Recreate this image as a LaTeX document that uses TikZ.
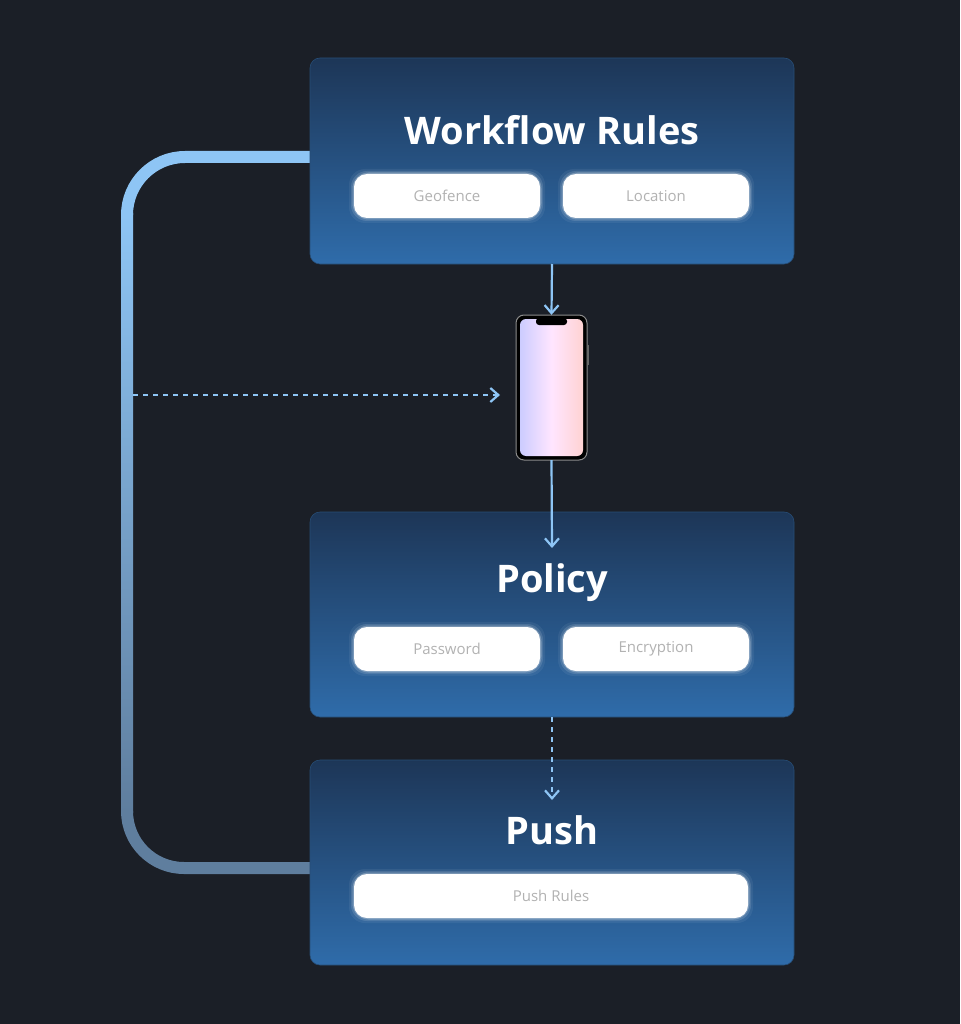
\documentclass[tikz,border=0pt]{standalone}
\usepackage{fontspec}
\setmainfont{Open Sans}
\usetikzlibrary{positioning,arrows.meta}
\definecolor{bg}{HTML}{1B1F27}
\definecolor{boxtop}{HTML}{1D3657}
\definecolor{boxbot}{HTML}{2F6CAA}
\definecolor{link}{HTML}{8EC5F5}
\definecolor{linkend}{HTML}{5F7E9E}
\tikzset{
  panel/.style={rounded corners=10pt, top color=boxtop, bottom color=boxbot, draw=boxbot!60!bg, line width=0.6pt},
  title/.style={text=white, font=\bfseries\fontsize{38}{38}\selectfont},
  pill/.style={rounded corners=13pt, fill=white, inner sep=0pt, text=black!30, font=\fontsize{15}{15}\selectfont},
  flow/.style={draw=link, line width=2.2pt, -{Straight Barb[length=8pt,width=14pt]}},
  hint/.style={flow, dash pattern=on 5pt off 5pt}
}
\newcommand{\blurpill}[5]{% name, x, y, width, text
  \foreach \g/\o in {5/0.06,3/0.12,1.5/0.25}
    \fill[white, opacity=\o, rounded corners=16pt] ({#2-#4/2-\g},{#3-22-\g}) rectangle ({#2+#4/2+\g},{#3+22+\g});
  \node[pill, minimum width=#4, minimum height=44] (#1) at (#2,#3) {#5};
}
\begin{document}
\begin{tikzpicture}[x=1pt, y=-1pt]
\fill[bg] (0,0) rectangle (960,1024);
\useasboundingbox (0,0) rectangle (960,1024);

% loop on the left
\draw[link, line width=12pt] (310,157) -- (185,157) arc[start angle=-90, end angle=-180, radius=58];
\shade[top color=link, bottom color=linkend] (121,214) rectangle (133,812);
\draw[linkend, line width=12pt] (127,811) arc[start angle=180, end angle=90, radius=57] -- (310,868);
\coordinate (tap) at (133,395);

% panels
\draw[panel] (310,58) rectangle (794,264);
\node[title] (rules) at (552,130) {Workflow Rules};
\blurpill{geofence}{447}{196}{186}{Geofence}
\blurpill{location}{656}{196}{186}{Location}

\draw[panel] (310,512) rectangle (794,717);
\node[title] (policy) at (552,583) {Policy};
\blurpill{password}{447}{649}{186}{Password}
\blurpill{encryption}{656}{649}{186}{Encryption}

\draw[panel] (310,760) rectangle (794,965);
\node[title] (push) at (552,830) {Push};
\blurpill{pushrules}{551}{896}{394}{Push Rules}

\coordinate (rulesout) at (552,264);
\coordinate (policyin) at (552,548);
\coordinate (policyout) at (552,717);
\coordinate (pushin) at (552,800);
\coordinate (phonein) at (500,395);

% phone
\draw[fill=black, draw=black!45, line width=1pt, rounded corners=8pt] (516,315) rectangle (587,460);
\fill[black!60] (587,345) rectangle (589,365);
\shade[left color=blue!20!white, right color=pink!70!white, middle color=magenta!10!white, rounded corners=6pt] (520,319) rectangle (583,456);
\fill[black, rounded corners=3pt] (536,318) rectangle (567,325);
\node[minimum width=71, minimum height=145, inner sep=0pt] (phone) at (551.5,387.5) {};

% connectors
\draw[flow] (rulesout) -- (phone.north);
\draw[flow] (phone.south) -- (policyin);
\draw[hint] (policyout) -- (pushin);
\draw[hint] (tap) -- (phonein);
\end{tikzpicture}
\end{document}
